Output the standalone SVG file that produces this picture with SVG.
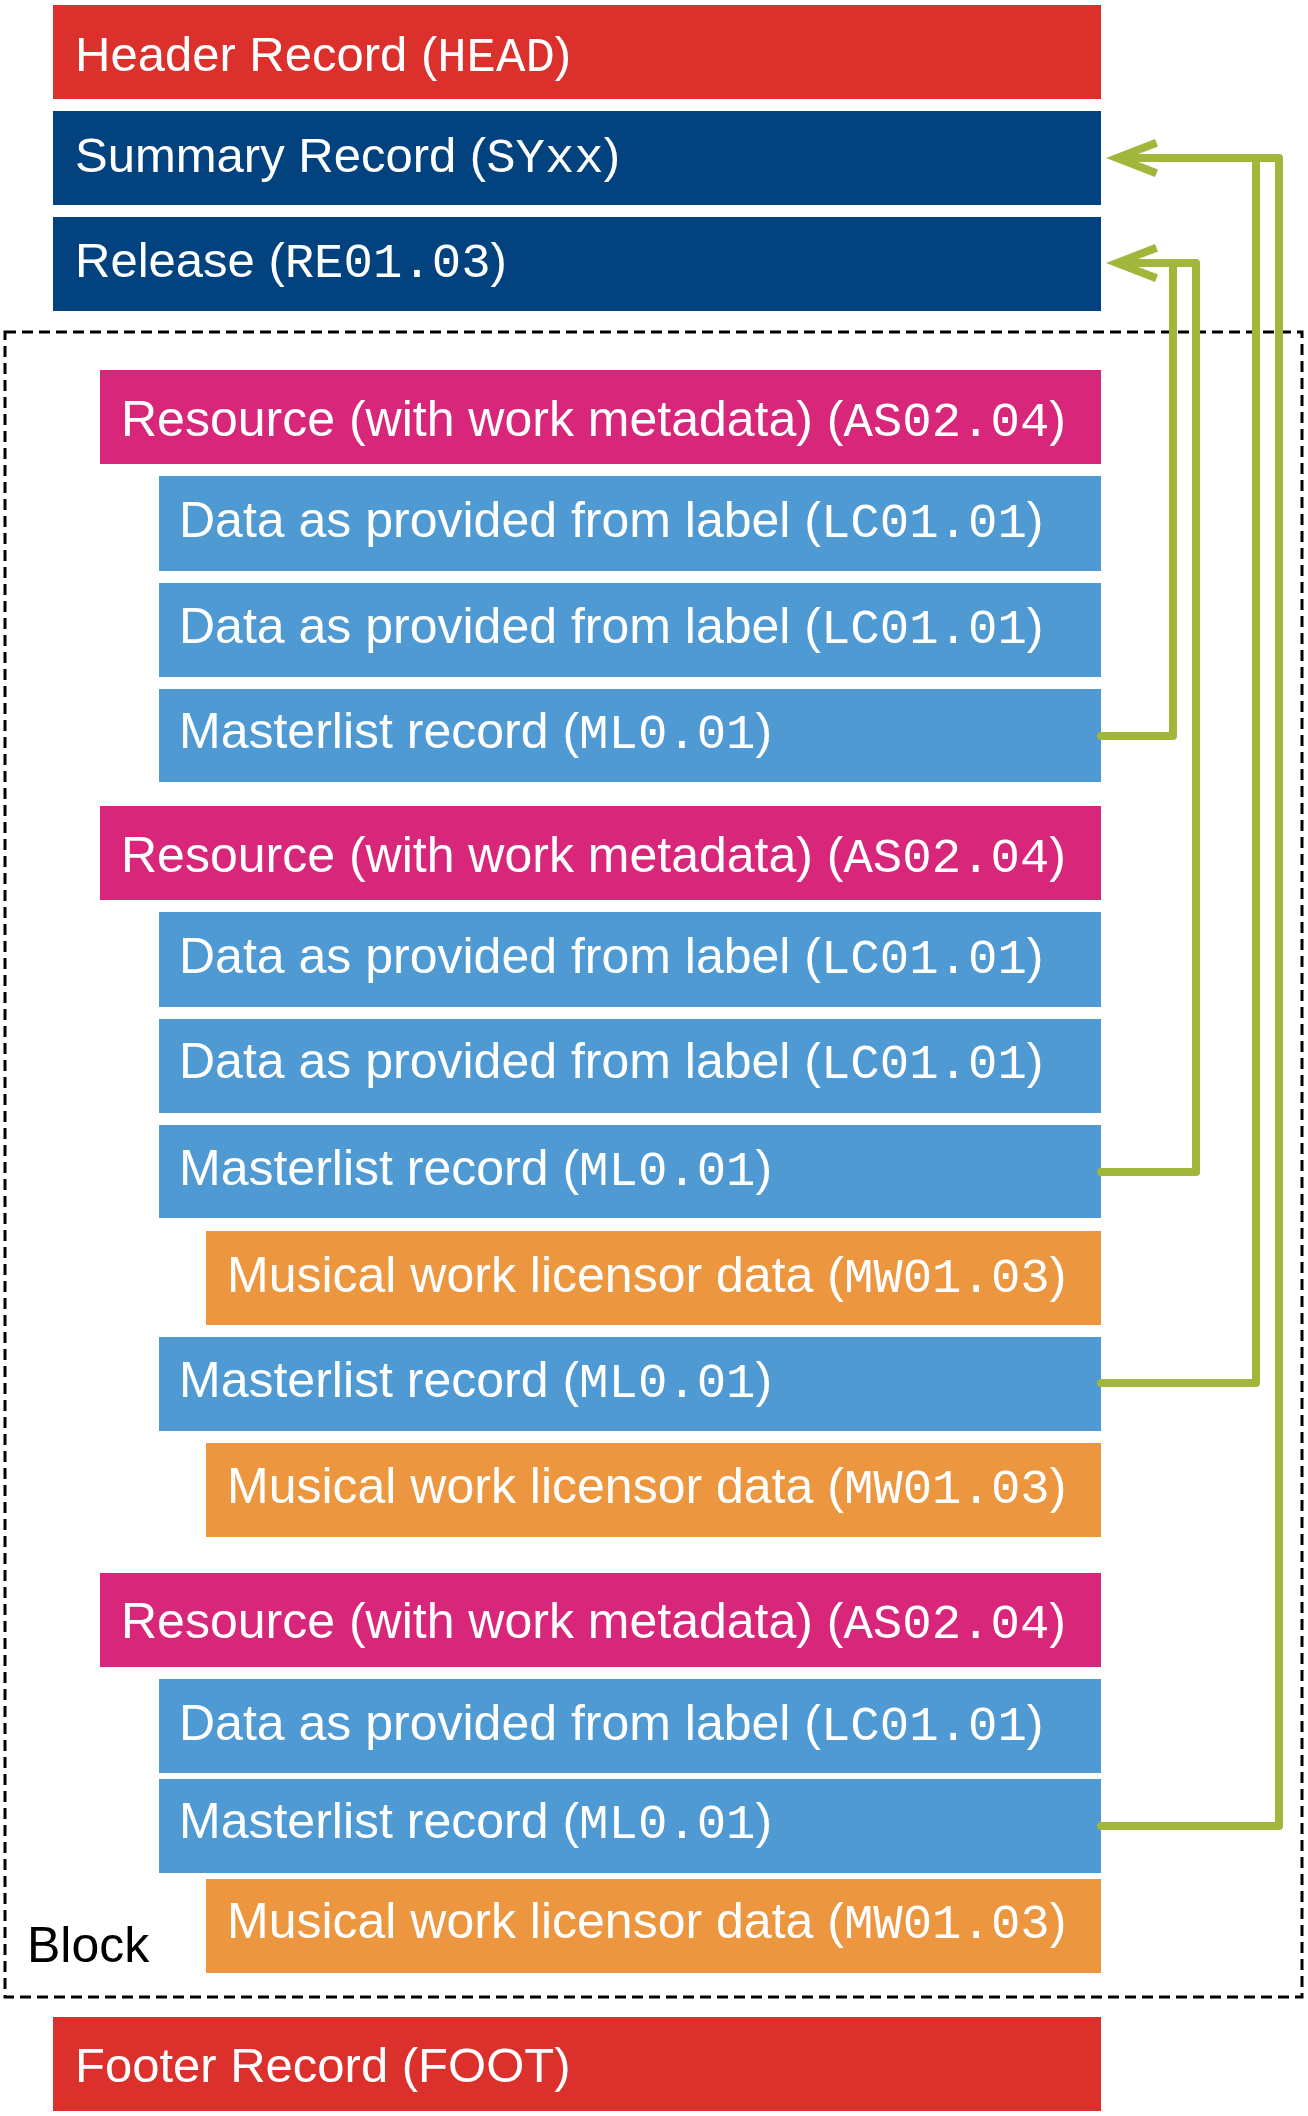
<svg xmlns="http://www.w3.org/2000/svg" width="1308" height="2116" viewBox="0 0 1308 2116">
  <style>
    .t { font-family: "Liberation Sans", Arial, sans-serif; font-size: 50px; fill: #ffffff; }
    .top { font-size: 49px; }
    .m { font-family: "Liberation Mono", "Courier New", monospace; font-size: 49px; }
    .red { fill: #DC302C; }
    .dblue { fill: #02427E; }
    .mag { fill: #D8267A; }
    .lblue { fill: #4F9AD2; }
    .orange { fill: #EC963F; }
    .conn { fill: none; stroke: #A0B73C; stroke-width: 8; stroke-linejoin: round; stroke-linecap: round; }
    .block { fill: none; stroke: #000000; stroke-width: 3; stroke-dasharray: 11 6; }
    .blocklabel { font-family: "Liberation Sans", Arial, sans-serif; font-size: 50px; fill: #000000; }
  </style>
  <defs>
    <marker id="arrow" markerUnits="userSpaceOnUse" orient="auto" refX="0" refY="0" markerWidth="60" markerHeight="46" viewBox="-36 -23 60 46" overflow="visible">
      <polygon points="12,0 -37,-19 -40,-11.5 -10,0 -40,11.5 -37,19" fill="#A0B73C"/>
    </marker>
  </defs>

  <g id="block">
    <rect class="block" x="5" y="332" width="1297" height="1665"/>
    <text class="blocklabel" x="27" y="1962">Block</text>
  </g>

  <g id="header"><rect class="red" x="53" y="5" width="1048" height="94"/><text class="t top" x="75" y="71">Header Record (<tspan class="m">HEAD</tspan>)</text></g>
  <g id="summary"><rect class="dblue" x="53" y="111" width="1048" height="94"/><text class="t top" x="75" y="172">Summary Record (<tspan class="m">SYxx</tspan>)</text></g>
  <g id="release"><rect class="dblue" x="53" y="217" width="1048" height="94"/><text class="t top" x="75" y="277">Release (<tspan class="m">RE01.03</tspan>)</text></g>

  <g id="resource1"><rect class="mag" x="100" y="370" width="1001" height="94"/><text class="t" x="121" y="436">Resource (with work metadata) (<tspan class="m">AS02.04</tspan>)</text></g>
  <g id="lc1"><rect class="lblue" x="159" y="476" width="942" height="95"/><text class="t" x="179" y="537">Data as provided from label (<tspan class="m">LC01.01</tspan>)</text></g>
  <g id="lc2"><rect class="lblue" x="159" y="583" width="942" height="94"/><text class="t" x="179" y="643">Data as provided from label (<tspan class="m">LC01.01</tspan>)</text></g>
  <g id="ml1"><rect class="lblue" x="159" y="689" width="942" height="93"/><text class="t" x="179" y="748">Masterlist record (<tspan class="m">ML0.01</tspan>)</text></g>

  <g id="resource2"><rect class="mag" x="100" y="806" width="1001" height="94"/><text class="t" x="121" y="872">Resource (with work metadata) (<tspan class="m">AS02.04</tspan>)</text></g>
  <g id="lc3"><rect class="lblue" x="159" y="912" width="942" height="95"/><text class="t" x="179" y="973">Data as provided from label (<tspan class="m">LC01.01</tspan>)</text></g>
  <g id="lc4"><rect class="lblue" x="159" y="1019" width="942" height="94"/><text class="t" x="179" y="1078">Data as provided from label (<tspan class="m">LC01.01</tspan>)</text></g>
  <g id="ml2"><rect class="lblue" x="159" y="1125" width="942" height="93"/><text class="t" x="179" y="1185">Masterlist record (<tspan class="m">ML0.01</tspan>)</text></g>
  <g id="mw1"><rect class="orange" x="206" y="1231" width="895" height="94"/><text class="t" x="227" y="1292">Musical work licensor data (<tspan class="m">MW01.03</tspan>)</text></g>
  <g id="ml3"><rect class="lblue" x="159" y="1337" width="942" height="94"/><text class="t" x="179" y="1397">Masterlist record (<tspan class="m">ML0.01</tspan>)</text></g>
  <g id="mw2"><rect class="orange" x="206" y="1443" width="895" height="94"/><text class="t" x="227" y="1503">Musical work licensor data (<tspan class="m">MW01.03</tspan>)</text></g>

  <g id="resource3"><rect class="mag" x="100" y="1573" width="1001" height="94"/><text class="t" x="121" y="1638">Resource (with work metadata) (<tspan class="m">AS02.04</tspan>)</text></g>
  <g id="lc5"><rect class="lblue" x="159" y="1679" width="942" height="94"/><text class="t" x="179" y="1740">Data as provided from label (<tspan class="m">LC01.01</tspan>)</text></g>
  <g id="ml4"><rect class="lblue" x="159" y="1779" width="942" height="94"/><text class="t" x="179" y="1838">Masterlist record (<tspan class="m">ML0.01</tspan>)</text></g>
  <g id="mw3"><rect class="orange" x="206" y="1879" width="895" height="94"/><text class="t" x="227" y="1938">Musical work licensor data (<tspan class="m">MW01.03</tspan>)</text></g>

  <g id="footer"><rect class="red" x="53" y="2017" width="1048" height="94"/><text class="t top" x="75" y="2082">Footer Record (FOOT)</text></g>

  <g id="connectors">
    <path class="conn" d="M1101,736 H1173 V263"/>
    <path class="conn" d="M1101,1172 H1196 V263 H1118" marker-end="url(#arrow)"/>
    <path class="conn" d="M1101,1383 H1256 V158"/>
    <path class="conn" d="M1101,1826 H1279 V158 H1118" marker-end="url(#arrow)"/>
  </g>
</svg>
